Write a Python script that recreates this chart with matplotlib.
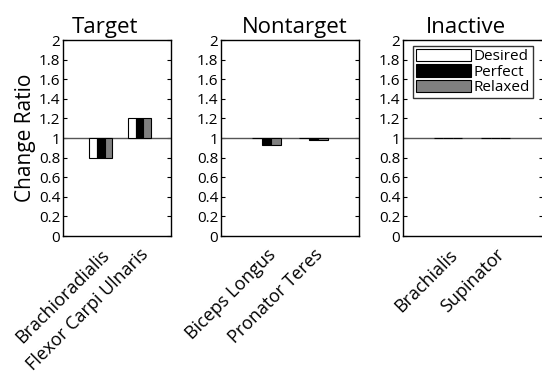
import matplotlib
matplotlib.use("Agg")
import matplotlib.pyplot as plt
import numpy as np

plt.rcParams['font.family'] = ['Open Sans', 'DejaVu Sans']

titles = ["Target", "Nontarget", "Inactive"]
muscles = [["Brachioradialis", "Flexor Carpi Ulnaris"],
           ["Biceps Longus", "Pronator Teres"],
           ["Brachialis", "Supinator"]]
series = ["Desired", "Perfect", "Relaxed"]
desired = [[0.80, 1.20], [1.00, 1.00], [1.00, 1.00]]
perfect = [[0.80, 1.20], [0.93, 0.98], [1.00, 1.00]]
relaxed = [[0.80, 1.20], [0.93, 0.98], [1.00, 1.00]]
colors = ["white", "black", "#808080"]
yticks = [0, 0.2, 0.4, 0.6, 0.8, 1, 1.2, 1.4, 1.6, 1.8, 2]
ytick_labels = ["0", "0.2", "0.4", "0.6", "0.8", "1", "1.2", "1.4", "1.6", "1.8", "2"]

W, H = 542, 375
fig = plt.figure(figsize=(W / 100, H / 100), dpi=100)

# axes boxes in pixels: left, right
boxes = [(63, 171), (221, 359), (403, 543)]
xlims = [(0.03, 2.81), (0.03, 2.97), (0.05, 3.0)]
title_x = [0.39, 0.535, 0.45]
top, bottom = 40, 236

bw = 0.2
for i, (l, r) in enumerate(boxes):
    ax = fig.add_axes([l / W, 1 - bottom / H, (r - l) / W, (bottom - top) / H])
    x = np.arange(1, len(muscles[i]) + 1)
    vals = [desired[i], perfect[i], relaxed[i]]
    for j, (name, v) in enumerate(zip(series, vals)):
        v = np.array(v)
        ax.bar(x + (j - 1) * bw, v - 1, bottom=1, width=bw, color=colors[j],
               edgecolor="black", linewidth=0.8, label=name, zorder=3)
    ax.axhline(1, color="#555555", linewidth=1.0, zorder=2)
    ax.set_ylim(0, 2)
    ax.set_xlim(*xlims[i])
    ax.set_yticks(yticks)
    ax.set_yticklabels(ytick_labels, fontsize=11)
    ax.tick_params(axis='y', direction='in', right=True, length=3, pad=2)
    ax.set_xticks(x)
    ax.set_xticklabels(muscles[i], rotation=45, ha='right', rotation_mode='anchor', fontsize=13)
    ax.tick_params(axis='x', length=0, pad=7)
    t = ax.set_title(titles[i], fontsize=16, pad=5)
    t.set_x(title_x[i])
    for s in ax.spines.values():
        s.set_linewidth(1.0)
    if i == 0:
        ax.set_ylabel("Change Ratio", fontsize=15, labelpad=2)
    if i == 2:
        leg = ax.legend(loc='upper left', bbox_to_anchor=(0.07, 0.97), fontsize=11,
                        frameon=True, fancybox=False,
                        edgecolor='black', handlelength=3.6, handleheight=0.85,
                        handletextpad=0.15, labelspacing=0.0, borderpad=0.2,
                        borderaxespad=0.0)
        leg.get_frame().set_linewidth(1.0)

fig.savefig("out.png", dpi=100)
